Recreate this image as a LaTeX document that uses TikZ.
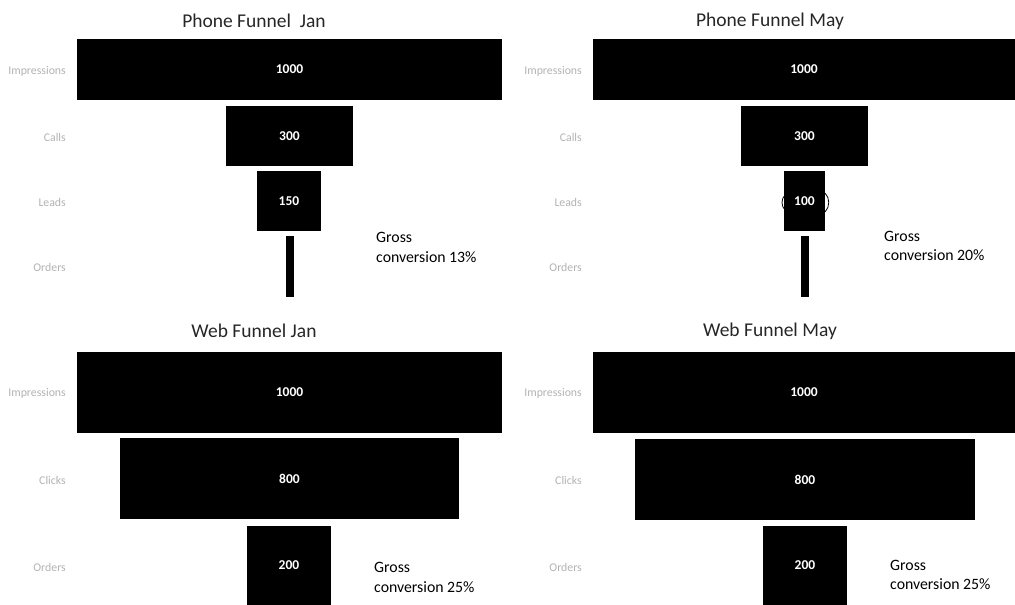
\documentclass[tikz,border=0pt]{standalone}
\usepackage{fontspec}
\setmainfont{Carlito}
\begin{document}
\begin{tikzpicture}[x=1pt,y=-1pt,
  bar/.style={fill=black,text=white,inner sep=0pt,outer sep=0pt,font=\fontsize{13.5}{15}\selectfont\bfseries},
  cat/.style={anchor=east,text=black!30,inner sep=0pt,font=\fontsize{11.8}{13}\selectfont},
  ttl/.style={text=black!85,inner sep=0pt,font=\fontsize{19.5}{22}\selectfont},
  gross/.style={anchor=west,align=left,inner sep=0pt,font=\fontsize{15.8}{19.5}\selectfont}]
\useasboundingbox (0,0) rectangle (1015,605);
% Phone Funnel Jan
\node[ttl] (t1) at (254,21) {Phone Funnel\ \ Jan};
\node[bar,minimum width=425pt,minimum height=61pt] (p1imp) at (289.5,69.5) {1000};
\node[bar,minimum width=127pt,minimum height=60pt] (p1calls) at (289.5,136) {300};
\node[bar,minimum width=64pt,minimum height=60pt] (p1leads) at (289,201) {150};
\node[bar,minimum width=8pt,minimum height=61pt] (p1orders) at (290,266.5) {};
\node[cat] (c1a) at (66,71) {Impressions};
\node[cat] (c1b) at (66,137) {Calls};
\node[cat] (c1c) at (66,202) {Leads};
\node[cat] (c1d) at (66,267) {Orders};
\node[gross] (g1) at (376,247.5) {Gross\\conversion 13\%};
% Phone Funnel May
\node[ttl] (t2) at (770,21) {Phone Funnel May};
\node[bar,minimum width=422pt,minimum height=61pt] (p2imp) at (804,69.5) {1000};
\node[bar,minimum width=127pt,minimum height=60pt] (p2calls) at (804.5,136) {300};
\node[bar,minimum width=41pt,minimum height=60pt] (p2leads) at (804.5,201) {100};
\node[bar,minimum width=8pt,minimum height=61pt] (p2orders) at (805,266.5) {};
\draw[line width=0.8pt] (825,193) .. controls (830,198) and (830,207) .. (825,212);
\draw[line width=0.8pt] (785,195) .. controls (781,199) and (781,206) .. (785,210);
\node[cat] (c2a) at (582,71) {Impressions};
\node[cat] (c2b) at (582,137) {Calls};
\node[cat] (c2c) at (582,202) {Leads};
\node[cat] (c2d) at (582,267) {Orders};
\node[gross] (g2) at (884,246) {Gross\\conversion 20\%};
% Web Funnel Jan
\node[ttl] (t3) at (254,331) {Web Funnel Jan};
\node[bar,minimum width=425pt,minimum height=81pt] (w3imp) at (289.5,392.5) {1000};
\node[bar,minimum width=339pt,minimum height=81pt] (w3clicks) at (289.5,478.5) {800};
\node[bar,minimum width=84pt,minimum height=79pt] (w3orders) at (289,565.5) {200};
\node[cat] (c3a) at (66,393) {Impressions};
\node[cat] (c3b) at (66,480) {Clicks};
\node[cat] (c3c) at (66,567) {Orders};
\node[gross] (g3) at (374,577.5) {Gross\\conversion 25\%};
% Web Funnel May
\node[ttl] (t4) at (770,331) {Web Funnel May};
\node[bar,minimum width=422pt,minimum height=81pt] (w4imp) at (804,392.5) {1000};
\node[bar,minimum width=340pt,minimum height=81pt] (w4clicks) at (805,479.5) {800};
\node[bar,minimum width=84pt,minimum height=79pt] (w4orders) at (805,565.5) {200};
\node[cat] (c4a) at (582,393) {Impressions};
\node[cat] (c4b) at (582,480) {Clicks};
\node[cat] (c4c) at (582,567) {Orders};
\node[gross] (g4) at (890,575) {Gross\\conversion 25\%};
\end{tikzpicture}
\end{document}
